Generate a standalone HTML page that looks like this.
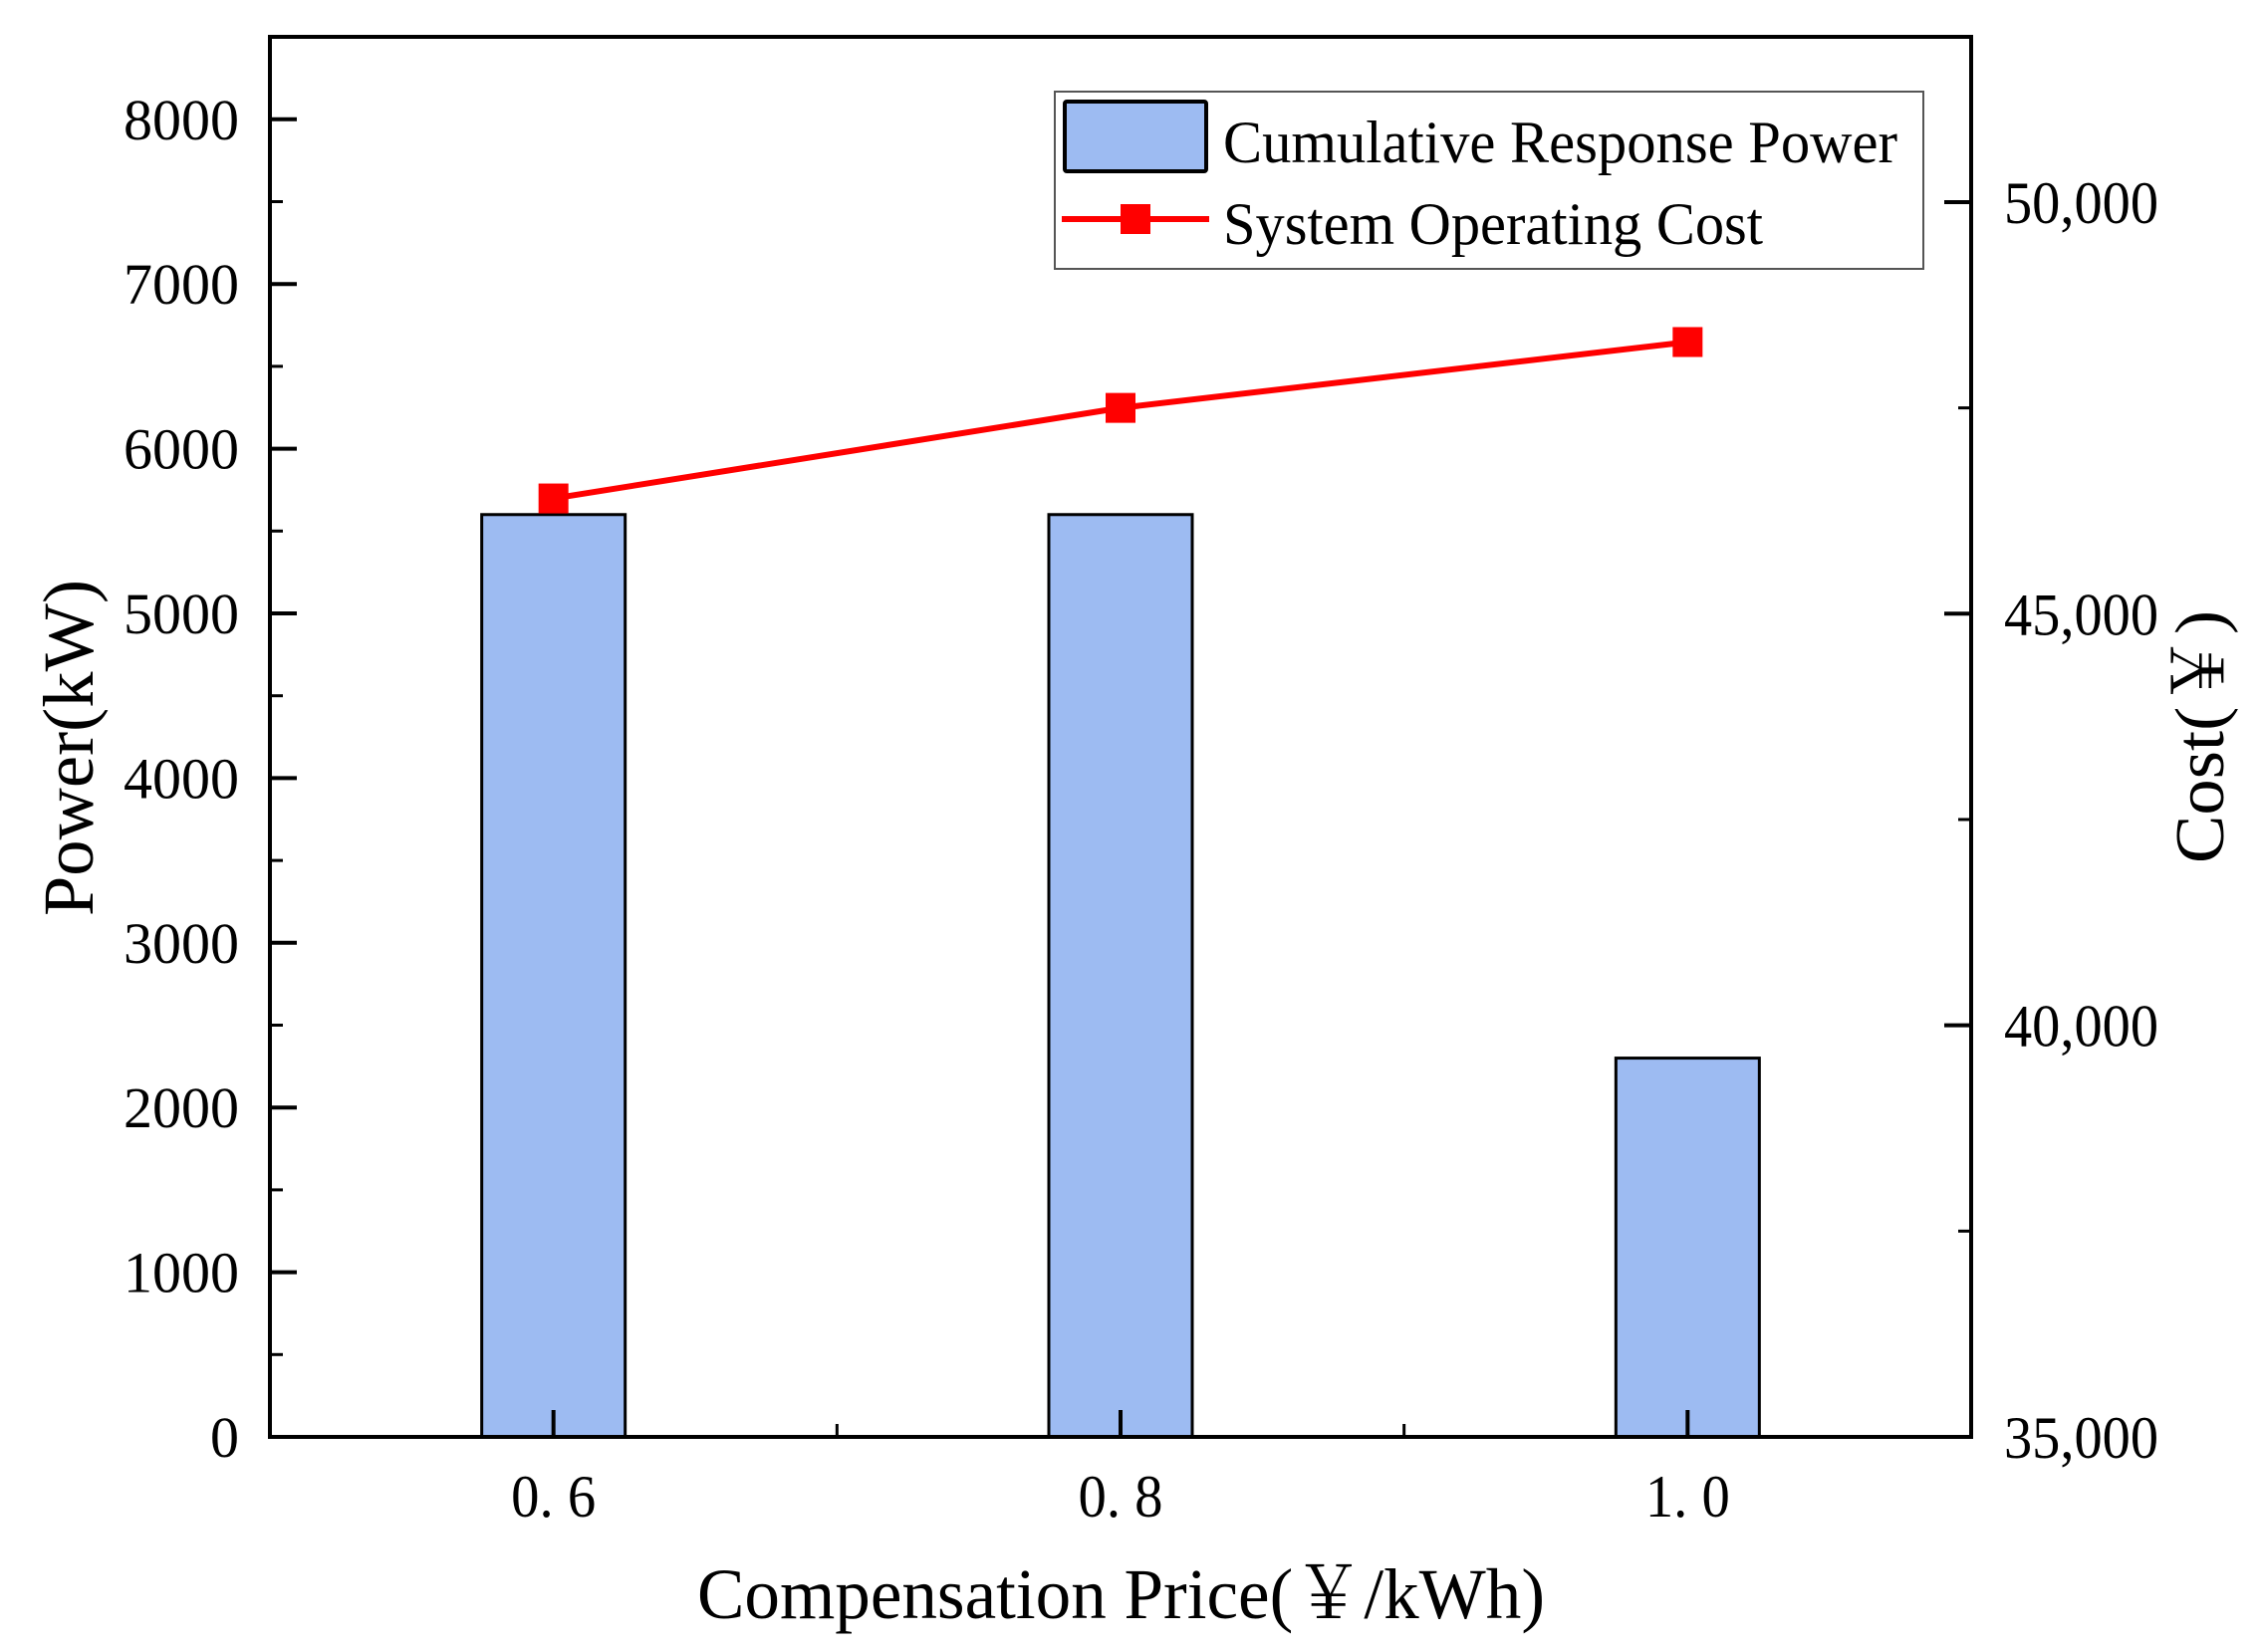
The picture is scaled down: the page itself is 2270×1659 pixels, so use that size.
<!DOCTYPE html>
<html><head><meta charset="utf-8"><style>
html,body{margin:0;padding:0;background:#fff;}
svg{display:block;}
text{font-family:"Liberation Serif","Noto Serif CJK SC",serif;fill:#000;}
</style></head><body>
<svg id="chart" width="2270" height="1659" viewBox="0 0 2270 1659" xmlns="http://www.w3.org/2000/svg">
<g id="grid"></g>
</svg>
<script>
const categories = ["0. 6", "0. 8", "1. 0"];
const powerValues = [5600, 5600, 2300];
const costValues = [46400, 47500, 48300];
const leftTicks = [0, 1000, 2000, 3000, 4000, 5000, 6000, 7000, 8000];
const rightTicks = [35000, 40000, 45000, 50000];
const rightTickLabels = ["35,000", "40,000", "45,000", "50,000"];

const NS = "http://www.w3.org/2000/svg";
const svg = document.getElementById('chart');
const L = 271, R = 1979, T = 37, B = 1443;
const catW = (R - L) / 3;
function xPos(i){ return L + catW * (i + 0.5); }
function yPow(v){ return B - (v / 1000) * 165.4; }
function yCost(v){ return B - ((v - 35000) / 1000) * 82.67; }
function mk(tag, attrs, parent){
  const e = document.createElementNS(NS, tag);
  for (const k in attrs) e.setAttribute(k, attrs[k]);
  (parent || svg).appendChild(e);
  return e;
}
function txt(s, attrs){
  const e = mk('text', attrs);
  e.textContent = s;
  return e;
}

// bars
powerValues.forEach((v, i) => {
  const b = mk('rect', {x: xPos(i) - 72, y: yPow(v), width: 144, height: B - yPow(v), fill: '#9dbbf2', stroke: '#000', 'stroke-width': 3});
  
  
});

// axes box
const box = mk('rect', {x: L, y: T, width: R - L, height: B - T, fill: 'none', stroke: '#000', 'stroke-width': 4});



// left ticks
leftTicks.forEach((v) => {
  const y = yPow(v);
  const t = mk('line', {x1: L, x2: L + 27, y1: y, y2: y, stroke: '#000', 'stroke-width': 4});
  
  
  const lb = txt(String(v), {x: 240, y: y + 20, 'font-size': 58, 'text-anchor': 'end'});
  
  
  if (v < 8000) {
    const m = mk('line', {x1: L, x2: L + 13, y1: yPow(v + 500), y2: yPow(v + 500), stroke: '#000', 'stroke-width': 3});
    
    
  }
});

// right ticks
rightTicks.forEach((v, i) => {
  const y = yCost(v);
  const t = mk('line', {x1: R - 27, x2: R, y1: y, y2: y, stroke: '#000', 'stroke-width': 4});
  
  
  const lb = txt(rightTickLabels[i], {x: 2012, y: y + 21, 'font-size': 60, textLength: 155, lengthAdjust: 'spacingAndGlyphs'});
  
  
  const m = mk('line', {x1: R - 13, x2: R, y1: yCost(v + 2500), y2: yCost(v + 2500), stroke: '#000', 'stroke-width': 3});
  
  
});

// x ticks
categories.forEach((c, i) => {
  const x = xPos(i);
  const t = mk('line', {x1: x, x2: x, y1: B, y2: B - 27, stroke: '#000', 'stroke-width': 4});
  
  
  const lb = txt(c, {x: x, y: 1523, 'font-size': 60, 'text-anchor': 'middle', textLength: 85, lengthAdjust: 'spacingAndGlyphs'});
  
  
  if (i < categories.length - 1) {
    const m = mk('line', {x1: x + catW / 2, x2: x + catW / 2, y1: B, y2: B - 13, stroke: '#000', 'stroke-width': 3});
    
    
  }
});

// cost line
const pts = costValues.map((v, i) => xPos(i) + ',' + yCost(v)).join(' ');
const pl = mk('polyline', {points: pts, fill: 'none', stroke: '#ff0000', 'stroke-width': 6});


costValues.forEach((v, i) => {
  const p = mk('rect', {x: xPos(i) - 15, y: yCost(v) - 15, width: 30, height: 30, fill: '#ff0000'});
  
  
});

// legend
const lg = mk('rect', {x: 1059, y: 92, width: 872, height: 178, fill: '#fff', stroke: '#555', 'stroke-width': 2});


const lp = mk('rect', {x: 1069, y: 102, width: 142, height: 70, fill: '#9dbbf2', stroke: '#000', 'stroke-width': 4, rx: 2});


const ll = mk('line', {x1: 1066, x2: 1214, y1: 220, y2: 220, stroke: '#ff0000', 'stroke-width': 6});


const lm = mk('rect', {x: 1125, y: 205, width: 30, height: 30, fill: '#ff0000'});


const lt1 = txt('Cumulative Response Power', {x: 1228, y: 163, 'font-size': 60, textLength: 677, lengthAdjust: 'spacingAndGlyphs'});


const lt2 = txt('System Operating Cost', {x: 1228, y: 245, 'font-size': 60, textLength: 542, lengthAdjust: 'spacingAndGlyphs'});



// axis titles
const xt = txt('Compensation Price(￥/kWh)', {x: 700, y: 1625, 'font-size': 72, textLength: 851, lengthAdjust: 'spacingAndGlyphs'});


const yt = txt('Power(kW)', {x: 0, y: 0, 'font-size': 72, textLength: 338, lengthAdjust: 'spacingAndGlyphs', transform: 'translate(93,920) rotate(-90)'});


const ry = txt('Cost(￥)', {x: 0, y: 0, 'font-size': 70, textLength: 254, lengthAdjust: 'spacingAndGlyphs', transform: 'translate(2232,867) rotate(-90)'});


</script>
</body></html>
